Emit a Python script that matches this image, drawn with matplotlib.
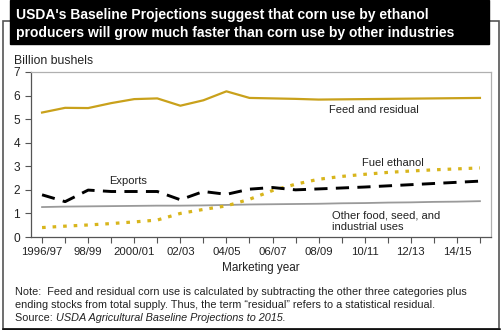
import matplotlib
matplotlib.use("Agg")
from matplotlib import pyplot as plt
from matplotlib.patches import Rectangle
from matplotlib.lines import Line2D
import numpy as np

plt.rcParams['font.family'] = ['Liberation Sans', 'DejaVu Sans']
plt.rcParams['lines.scale_dashes'] = False

years = ["1996/97", "97/98", "98/99", "99/00", "2000/01", "01/02", "02/03", "03/04",
         "04/05", "05/06", "06/07", "07/08", "08/09", "09/10", "10/11", "11/12",
         "12/13", "13/14", "14/15", "15/16"]
feed = [5.28, 5.48, 5.47, 5.68, 5.85, 5.88, 5.57, 5.80, 6.18, 5.90,
        5.88, 5.86, 5.83, 5.84, 5.85, 5.86, 5.87, 5.88, 5.89, 5.90]
exports = [1.79, 1.50, 1.99, 1.93, 1.93, 1.93, 1.58, 1.93, 1.81, 2.03,
           2.10, 2.00, 2.04, 2.08, 2.12, 2.17, 2.22, 2.27, 2.32, 2.37]
ethanol = [0.40, 0.46, 0.51, 0.57, 0.64, 0.72, 1.00, 1.17, 1.32, 1.60,
           1.97, 2.24, 2.45, 2.57, 2.66, 2.74, 2.80, 2.85, 2.89, 2.93]
other = [1.27, 1.29, 1.30, 1.31, 1.32, 1.33, 1.33, 1.34, 1.36, 1.38,
         1.39, 1.40, 1.41, 1.43, 1.44, 1.46, 1.47, 1.49, 1.50, 1.52]

W, H = 503, 330
fig = plt.figure(figsize=(W / 100, H / 100), dpi=100)

def fx(px):
    return px / W

def fy(py):
    return 1 - py / H

# outer frame and title box
fig.patches.append(Rectangle((fx(3), fy(329)), fx(496), 308 / H, transform=fig.transFigure,
                             fill=False, edgecolor='#555555', lw=1.2, zorder=0))
fig.add_artist(Line2D([fx(3), fx(499)], [fy(329), fy(329)], color='#111111', lw=1.8))
fig.patches.append(Rectangle((fx(10), fy(44)), fx(479), 44 / H, transform=fig.transFigure,
                             facecolor='black', edgecolor='black', zorder=1))
fig.text(fx(16), fy(15), "USDA's Baseline Projections suggest that corn use by ethanol",
         color='white', fontsize=10, fontweight='bold', va='center', zorder=2)
fig.text(fx(16), fy(33), "producers will grow much faster than corn use by other industries",
         color='white', fontsize=10, fontweight='bold', va='center', zorder=2)

ax = fig.add_axes([fx(31), fy(237), fx(460), 165 / H])
x = np.arange(len(years))
ax.plot(x, feed, color='#C9A11B', lw=1.6)
ax.plot(x, other, color='#9a9a9a', lw=1.3)
ax.plot(x, ethanol, color='#D8B51C', lw=2.3, dashes=(2.6, 5.0), dash_capstyle='butt')
ax.plot(x, exports, color='black', lw=2.1, dashes=(9.5, 6.0), dash_capstyle='butt')

ax.set_xlim(-0.48, 19.48)
ax.set_ylim(0, 7)
ax.set_yticks(range(0, 8))
ax.set_xticks(x)
ax.set_xticklabels([y if i % 2 == 0 else "" for i, y in enumerate(years)])
ax.tick_params(axis='both', direction='out', length=4, width=0.8, color='#555555',
               labelsize=8.2, labelcolor='#222222')
ax.tick_params(axis='y', labelsize=8.6, pad=4)
ax.tick_params(axis='x', pad=3)
for s in ['left', 'bottom']:
    ax.spines[s].set_color('#555555')
    ax.spines[s].set_linewidth(0.9)
for s in ['top', 'right']:
    ax.spines[s].set_color('#b0b0b0')
    ax.spines[s].set_linewidth(0.9)
ax.set_xlabel("Marketing year", fontsize=8.5, color='#222222', labelpad=4)

ax.text(12.45, 5.39, "Feed and residual", fontsize=8, color='#222222', va='center')
ax.text(2.9, 2.38, "Exports", fontsize=8, color='#222222', va='center')
ax.text(13.9, 3.14, "Fuel ethanol", fontsize=8, color='#222222', va='center')
ax.text(12.6, 0.68, "Other food, seed, and\nindustrial uses", fontsize=8, color='#222222',
        va='center', linespacing=1.2)

fig.text(fx(14), fy(61), "Billion bushels", fontsize=8.8, color='#222222', va='center')

fig.text(fx(15), fy(292), "Note:  Feed and residual corn use is calculated by subtracting the other three categories plus",
         fontsize=7.8, color='#222222', va='center')
fig.text(fx(15), fy(305), "ending stocks from total supply. Thus, the term \u201cresidual\u201d refers to a statistical residual.",
         fontsize=7.8, color='#222222', va='center')
src = fig.text(fx(15), fy(318), "Source: ", fontsize=7.8, color='#222222', va='center')
ax.annotate("USDA Agricultural Baseline Projections to 2015.", xy=(1, 0), xycoords=src,
            fontsize=7.8, color='#222222', style='italic', va='bottom', ha='left',
            annotation_clip=False)

fig.savefig("out.png", dpi=100)
